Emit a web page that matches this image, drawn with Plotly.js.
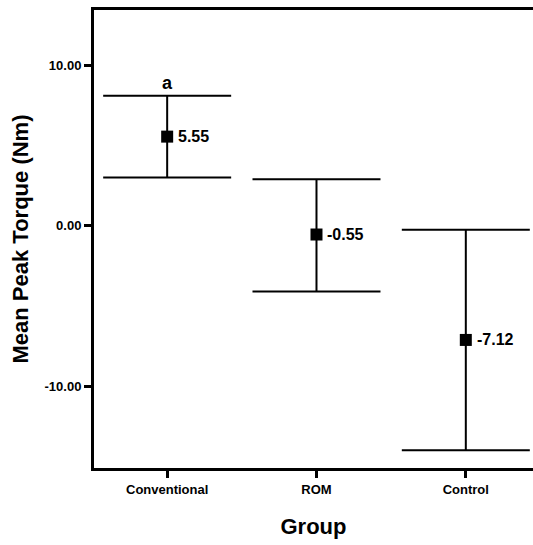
<!DOCTYPE html>
<html>
<head>
<meta charset="utf-8">
<script src="https://cdn.plot.ly/plotly-3.0.1.min.js"></script>
<style>html,body{margin:0;padding:0;background:#fff;overflow:hidden}#chart{width:533px;height:545px}</style>
</head>
<body>
<div id="chart"></div>
<script>
// Data
var groups = ["Conventional", "ROM", "Control"];
var means = [5.55, -0.55, -7.12];
var upperLimits = [8.1, 2.9, -0.25];
var lowerLimits = [3.0, -4.1, -14.0];
var valueLabels = ["5.55", "-0.55", "-7.12"];
var significance = ["a", "", ""];
var yTickVals = [10, 0, -10];
var yTickText = ["10.00", "0.00", "-10.00"];

var errPlus = means.map(function (m, i) { return upperLimits[i] - m; });
var errMinus = means.map(function (m, i) { return m - lowerLimits[i]; });

var trace = {
  type: "scatter",
  mode: "markers",
  x: groups,
  y: means,
  marker: { symbol: "square", size: 12, color: "#000" },
  error_y: {
    type: "data",
    symmetric: false,
    array: errPlus,
    arrayminus: errMinus,
    color: "#000",
    thickness: 2,
    width: 64
  },
  hoverinfo: "skip",
  showlegend: false
};

var annotations = [];
groups.forEach(function (g, i) {
  annotations.push({
    x: g, y: means[i], xref: "x", yref: "y",
    text: valueLabels[i], showarrow: false,
    xanchor: "left", yanchor: "middle", xshift: 9,
    font: { family: "Arial, 'Liberation Sans', sans-serif", size: 16, color: "#000", weight: "bold" }
  });
  if (significance[i]) {
    annotations.push({
      x: g, y: upperLimits[i], xref: "x", yref: "y",
      text: significance[i], showarrow: false,
      xanchor: "center", yanchor: "bottom", yshift: 1,
      font: { family: "Arial, 'Liberation Sans', sans-serif", size: 18, color: "#000", weight: "bold" }
    });
  }
});

var layout = {
  width: 533,
  height: 545,
  margin: { l: 94, r: 0, t: 10, b: 77 },
  paper_bgcolor: "#fff",
  plot_bgcolor: "#fff",
  font: { family: "Arial, 'Liberation Sans', sans-serif", color: "#000" },
  xaxis: {
    type: "category",
    range: [-0.49, 2.45],
    showgrid: false,
    zeroline: false,
    showline: true,
    linecolor: "#000",
    linewidth: 3,
    mirror: true,
    ticks: "outside",
    ticklen: 7,
    tickwidth: 3,
    tickcolor: "#000",
    tickfont: { size: 13, color: "#000", weight: "bold" },
    title: { text: "Group", font: { size: 22, color: "#000", weight: "bold" }, standoff: 24 },
    automargin: false
  },
  yaxis: {
    range: [-15.1, 13.44],
    tickvals: yTickVals,
    ticktext: yTickText,
    showgrid: false,
    zeroline: false,
    showline: true,
    linecolor: "#000",
    linewidth: 3,
    ticks: "outside",
    ticklen: 7,
    tickwidth: 3,
    tickcolor: "#000",
    tickfont: { size: 13, color: "#000", weight: "bold" },
    title: { text: "Mean Peak Torque (Nm)", font: { size: 22, color: "#000", weight: "bold" }, standoff: 10 },
    automargin: false
  },
  annotations: annotations
};

Plotly.newPlot("chart", [trace], layout, { displayModeBar: false, staticPlot: true });
</script>
</body>
</html>
